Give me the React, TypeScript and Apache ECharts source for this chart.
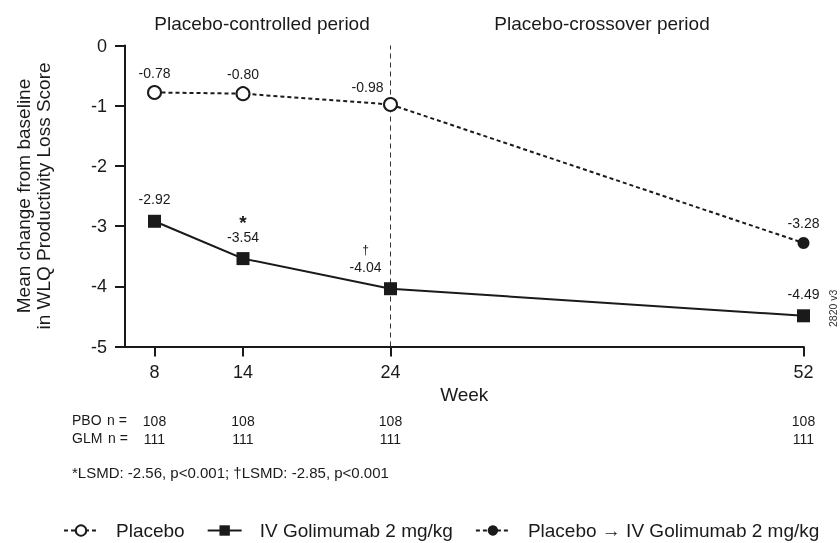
import React, { useEffect, useRef } from "react";
import * as echarts from "echarts";

const FONT = "'Liberation Sans', Arial, Helvetica, sans-serif";
const INK = "#1a1a1a";

const weeks = [8, 14, 24, 52];
const placeboWeeks = [8, 14, 24];
const placeboValues = [-0.78, -0.8, -0.98];
const glmValues = [-2.92, -3.54, -4.04, -4.49];
const glmMarks = ["", "*", "†", ""];
const crossWeeks = [24, 52];
const crossValues = [-0.98, -3.28];
const pboN = [108, 108, 108, 108];
const glmN = [111, 111, 111, 111];
const periodTitles = ["Placebo-controlled period", "Placebo-crossover period"];
const seriesNames = ["Placebo", "IV Golimumab 2 mg/kg", "Placebo \u2192 IV Golimumab 2 mg/kg"];
const footnote = "*LSMD: -2.56, p<0.001; \u2020LSMD: -2.85, p<0.001";

export default function App() {
  const ref = useRef<HTMLDivElement>(null);
  useEffect(() => {
    if (!ref.current) return;
    const chart = echarts.init(ref.current, undefined, { renderer: "svg" });
    const fmt = (v: number) => v.toFixed(2);

    const nAxis = (counts: number[], offset: number) => ({
      type: "value",
      gridIndex: 0,
      position: "bottom",
      offset,
      min: 6,
      max: 52,
      axisLine: { show: false },
      axisTick: { show: false },
      splitLine: { show: false },
      axisLabel: {
        customValues: weeks,
        formatter: (v: number) => String(counts[weeks.indexOf(v)] ?? ""),
        fontSize: 14,
        color: INK,
        fontFamily: FONT,
        margin: 7,
      },
    });

    const option: any = {
      animation: false,
      textStyle: { fontFamily: FONT },
      title: [
        {
          text: periodTitles[0],
          left: 257,
          top: 9,
          textAlign: "center",
          textStyle: { fontSize: 19, fontWeight: "normal", color: INK, fontFamily: FONT },
        },
        {
          text: periodTitles[1],
          left: 597,
          top: 9,
          textAlign: "center",
          textStyle: { fontSize: 19, fontWeight: "normal", color: INK, fontFamily: FONT },
        },
      ],
      grid: {
        left: 125,
        right: 36.5,
        top: 45.5,
        bottom: 196.5,
        containLabel: false,
        outerBoundsMode: "none",
      },
      xAxis: [
        {
          type: "value",
          min: 6,
          max: 52,
          name: "Week",
          nameLocation: "middle",
          nameGap: 38,
          nameTextStyle: { fontSize: 19, color: INK, fontFamily: FONT },
          axisLine: { show: true, onZero: false, lineStyle: { color: INK, width: 2 } },
          axisTick: { show: true, customValues: weeks, length: 10, lineStyle: { color: INK, width: 2 } },
          axisLabel: { customValues: weeks, fontSize: 18, color: INK, fontFamily: FONT, margin: 16 },
          splitLine: { show: false },
        },
        nAxis(pboN, 60),
        nAxis(glmN, 78),
      ],
      yAxis: {
        type: "value",
        min: -5,
        max: 0,
        interval: 1,
        name: "Mean change from baseline\nin WLQ Productivity Loss Score",
        nameLocation: "middle",
        nameRotate: 90,
        nameGap: 72,
        nameTextStyle: { fontSize: 19, color: INK, fontFamily: FONT, lineHeight: 20 },
        axisLine: { show: true, lineStyle: { color: INK, width: 2 } },
        axisTick: { show: true, length: 10, lineStyle: { color: INK, width: 2 } },
        axisLabel: { fontSize: 18, color: INK, fontFamily: FONT, margin: 18 },
        splitLine: { show: false },
      },
      legend: {
        left: 63,
        top: 521,
        padding: 0,
        itemWidth: 34,
        itemHeight: 13,
        itemGap: 22,
        textStyle: { fontSize: 19, color: INK, fontFamily: FONT, padding: [0, 0, 0, 13] },
        data: seriesNames,
      },
      series: [
        {
          name: seriesNames[2],
          type: "line",
          z: 2,
          symbol: "circle",
          symbolSize: 12,
          itemStyle: { color: INK },
          lineStyle: { color: INK, width: 2, type: [4, 3] },
          data: crossWeeks.map((w, i) => ({
            value: [w, crossValues[i]],
            symbol: i === 0 ? "none" : "circle",
            label: {
              show: i !== 0,
              position: "top",
              distance: 7,
              formatter: () => fmt(crossValues[i]),
              fontSize: 14,
              color: INK,
              fontFamily: FONT,
            },
          })),
        },
        {
          name: seriesNames[1],
          type: "line",
          z: 3,
          symbol: "rect",
          symbolSize: 13,
          itemStyle: { color: INK },
          lineStyle: { color: INK, width: 2 },
          markLine: {
            silent: true,
            symbol: ["none", "none"],
            label: { show: false },
            lineStyle: { color: "#333", width: 1, type: [5, 4] },
            data: [{ xAxis: 24 }],
            z: 1,
          },
          data: weeks.map((w, i) => ({
            value: [w, glmValues[i]],
            label: {
              show: true,
              position: "top",
              distance: 7,
              offset: w === 24 ? [-25, 0] : [0, 0],
              formatter: () =>
                glmMarks[i] === "*"
                  ? "{star|*}\n{v|" + fmt(glmValues[i]) + "}"
                  : glmMarks[i] === "†"
                  ? "{dag|†}\n{v|" + fmt(glmValues[i]) + "}"
                  : "{v|" + fmt(glmValues[i]) + "}",
              rich: {
                v: { fontSize: 14, color: INK, fontFamily: FONT, lineHeight: 17 },
                star: { fontSize: 19, fontWeight: "bold", color: INK, fontFamily: FONT, lineHeight: 17, padding: [6, 0, 0, 0] },
                dag: { fontSize: 12, color: INK, fontFamily: FONT, lineHeight: 16 },
              },
            },
          })),
        },
        {
          name: seriesNames[0],
          type: "line",
          z: 4,
          symbol: "circle",
          symbolSize: 13,
          itemStyle: { color: "#ffffff", borderColor: INK, borderWidth: 2 },
          lineStyle: { color: INK, width: 2, type: [4, 3] },
          data: placeboWeeks.map((w, i) => ({
            value: [w, placeboValues[i]],
            label: {
              show: true,
              position: "top",
              distance: 5,
              offset: w === 24 ? [-23, 2] : [0, 0],
              formatter: () => fmt(placeboValues[i]),
              fontSize: 14,
              color: INK,
              fontFamily: FONT,
            },
          })),
        },
      ],
      graphic: [
        { type: "text", left: 72, top: 413, style: { text: "PBO", fontSize: 14, fill: INK, fontFamily: FONT } },
        { type: "text", left: 107, top: 413, style: { text: "n =", fontSize: 14, fill: INK, fontFamily: FONT } },
        { type: "text", left: 72, top: 431, style: { text: "GLM", fontSize: 14, fill: INK, fontFamily: FONT } },
        { type: "text", left: 108, top: 431, style: { text: "n =", fontSize: 14, fill: INK, fontFamily: FONT } },
        { type: "text", left: 72, top: 465, style: { text: footnote, fontSize: 15, fill: INK, fontFamily: FONT } },
        {
          type: "text",
          x: 833,
          y: 327,
          rotation: Math.PI / 2,
          style: { text: "2820 v3", fontSize: 10.5, fill: "#333", fontFamily: FONT, textVerticalAlign: "middle" },
        },
      ],
    };
    chart.setOption(option);
    return () => chart.dispose();
  }, []);
  return <div ref={ref} style={{ position: "fixed", left: 0, top: 0, width: 840, height: 543 }} />;
}
